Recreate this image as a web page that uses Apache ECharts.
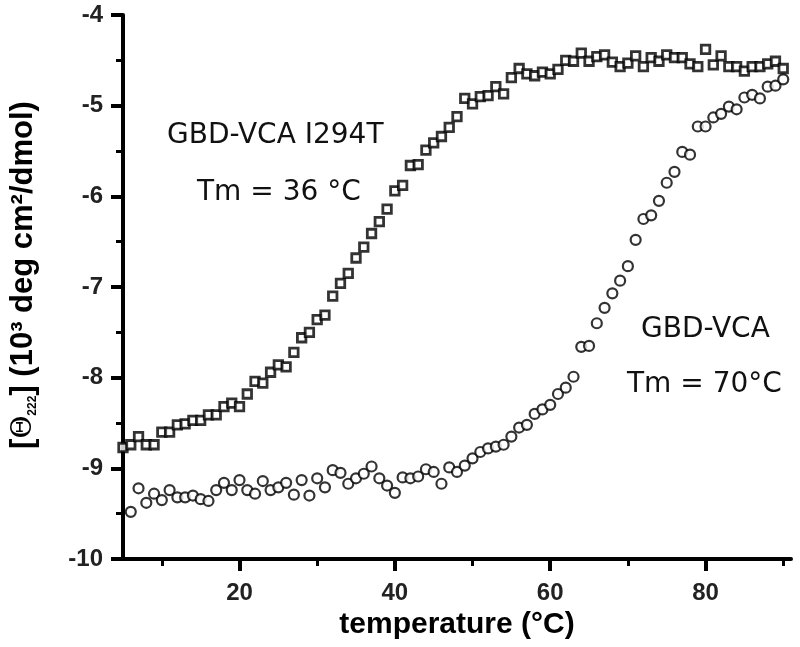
<!DOCTYPE html>
<html>
<head>
<meta charset="utf-8">
<script src="https://cdn.jsdelivr.net/npm/echarts@6/dist/echarts.min.js"></script>
<style>
html,body{margin:0;padding:0;background:#fff;}
#chart{width:800px;height:647px;}
</style>
</head>
<body>
<div id="chart"></div>
<script>
// GBD-VCA I294T (squares)
var tempI294T = [5,6,7,8,9,10,11,12,13,14,15,16,17,18,19,20,21,22,23,24,25,26,27,28,29,30,31,32,33,34,35,36,37,38,39,40,41,42,43,44,45,46,47,48,49,50,51,52,53,54,55,56,57,58,59,60,61,62,63,64,65,66,67,68,69,70,71,72,73,74,75,76,77,78,79,80,81,82,83,84,85,86,87,88,89,90];
var ellipI294T = [-8.77,-8.74,-8.65,-8.74,-8.74,-8.60,-8.60,-8.52,-8.51,-8.47,-8.47,-8.41,-8.41,-8.32,-8.28,-8.32,-8.18,-8.04,-8.06,-7.94,
  -7.86,-7.88,-7.72,-7.56,-7.50,-7.36,-7.31,-7.10,-6.96,-6.85,-6.68,-6.56,-6.41,-6.28,-6.14,-5.94,-5.88,-5.66,-5.65,-5.49,
  -5.41,-5.34,-5.24,-5.12,-4.92,-4.98,-4.90,-4.89,-4.79,-4.87,-4.69,-4.59,-4.65,-4.67,-4.63,-4.65,-4.60,-4.50,-4.51,-4.42,
  -4.51,-4.46,-4.44,-4.52,-4.57,-4.53,-4.45,-4.57,-4.47,-4.51,-4.44,-4.47,-4.47,-4.54,-4.57,-4.38,-4.55,-4.45,-4.57,-4.57,
  -4.62,-4.57,-4.57,-4.54,-4.51,-4.59];
// GBD-VCA (circles)
var tempVCA = [6,7,8,9,10,11,12,13,14,15,16,17,18,19,20,21,22,23,24,25,26,27,28,29,30,31,32,33,34,35,36,37,38,39,40,41,42,43,44,45,46,47,48,49,50,51,52,53,54,55,56,57,58,59,60,61,62,63,64,65,66,67,68,69,70,71,72,73,74,75,76,77,78,79,80,81,82,83,84,85,86,87,88,89,90];
var ellipVCA = [-9.48,-9.22,-9.38,-9.28,-9.35,-9.24,-9.32,-9.32,-9.30,-9.34,-9.36,-9.24,-9.16,-9.24,-9.13,-9.24,-9.28,-9.14,-9.24,-9.21,
  -9.16,-9.29,-9.13,-9.30,-9.11,-9.21,-9.02,-9.05,-9.17,-9.11,-9.06,-8.98,-9.11,-9.19,-9.27,-9.10,-9.11,-9.09,-9.01,-9.04,
  -9.17,-8.99,-9.04,-8.97,-8.89,-8.82,-8.78,-8.76,-8.74,-8.65,-8.55,-8.52,-8.40,-8.35,-8.30,-8.18,-8.11,-7.99,-7.66,-7.65,
  -7.40,-7.23,-7.07,-6.93,-6.77,-6.48,-6.25,-6.21,-6.05,-5.85,-5.73,-5.51,-5.54,-5.23,-5.23,-5.13,-5.09,-5.01,-5.04,-4.91,
  -4.88,-4.92,-4.79,-4.78,-4.71];

var xMajorTicks = [20,40,60,80];
var xMinorTicks = [10,30,50,70,90];
var xTitle = 'temperature (°C)';
var yTitle = '[{th|Θ}{sub|222}] (10³ deg cm²/dmol)';
var annotations = [
  {text:'GBD-VCA I294T'},
  {text:'Tm = 36 °C'},
  {text:'GBD-VCA'},
  {text:'Tm = 70°C'}
];

function pairs(xs, ys){ return xs.map(function(x,i){ return [x, ys[i]]; }); }

var axisFont = 'Liberation Sans, Arial, sans-serif';
var annFont = 'DejaVu Sans, Verdana, sans-serif';

var chart = echarts.init(document.getElementById('chart'), null, {renderer:'canvas'});
chart.setOption({
  backgroundColor:'#fff',
  animation:false,
  grid:{left:114, right:9, top:15, bottom:88},
  xAxis:[{
    type:'value', min:5, max:91,
    name:xTitle, nameLocation:'middle', nameGap:48,
    nameTextStyle:{fontFamily:axisFont, fontWeight:'bold', fontSize:30, color:'#000'},
    axisLine:{lineStyle:{color:'#000', width:4}},
    axisTick:{customValues:xMajorTicks, length:12, lineStyle:{color:'#000', width:4}},
    axisLabel:{customValues:xMajorTicks, margin:22, fontFamily:axisFont, fontWeight:'bold', fontSize:24, color:'#222'},
    splitLine:{show:false}
  },{
    type:'value', min:5, max:91, position:'bottom',
    axisLine:{show:false},
    axisTick:{customValues:xMinorTicks, length:7, lineStyle:{color:'#000', width:3}},
    axisLabel:{show:false},
    splitLine:{show:false}
  }],
  yAxis:{
    type:'value', min:-10, max:-4, interval:1,
    name:yTitle, nameLocation:'middle', nameGap:84,
    nameTextStyle:{fontFamily:axisFont, fontWeight:'bold', fontSize:31, color:'#000', padding:[0,0,0,24],
      rich:{
        th:{fontFamily:'DejaVu Serif, serif', fontWeight:'normal', fontSize:28, color:'#000'},
        sub:{fontFamily:axisFont, fontWeight:'bold', fontSize:12, color:'#000', verticalAlign:'bottom', padding:[13,0,0,0]}
      }},
    axisLine:{lineStyle:{color:'#000', width:4}},
    axisTick:{length:12, lineStyle:{color:'#000', width:4}},
    minorTick:{show:true, splitNumber:2, length:7, lineStyle:{color:'#000', width:3}},
    axisLabel:{margin:20, fontFamily:axisFont, fontWeight:'bold', fontSize:24, color:'#222'},
    splitLine:{show:false}
  },
  series:[{
    name:'GBD-VCA', type:'scatter', xAxisIndex:0,
    data:pairs(tempVCA, ellipVCA),
    symbol:'circle', symbolSize:10,
    itemStyle:{color:'#fff', borderColor:'#000', borderWidth:2.2}
  },{
    name:'GBD-VCA I294T', type:'scatter', xAxisIndex:0,
    data:pairs(tempI294T, ellipI294T),
    symbol:'rect', symbolSize:8.5,
    itemStyle:{color:'#fff', borderColor:'#000', borderWidth:2.8}
  }],
  graphic:[
    {type:'text', left:167, top:122, style:{text:annotations[0].text, font:'normal 28px ' + annFont, fill:'#111'}},
    {type:'text', left:197, top:179, style:{text:annotations[1].text, font:'normal 28px ' + annFont, fill:'#111'}},
    {type:'text', left:641, top:316, style:{text:annotations[2].text, font:'normal 28px ' + annFont, fill:'#111'}},
    {type:'text', left:627, top:371, style:{text:annotations[3].text, font:'normal 28px ' + annFont, fill:'#111'}}
  ]
});
</script>
</body>
</html>
